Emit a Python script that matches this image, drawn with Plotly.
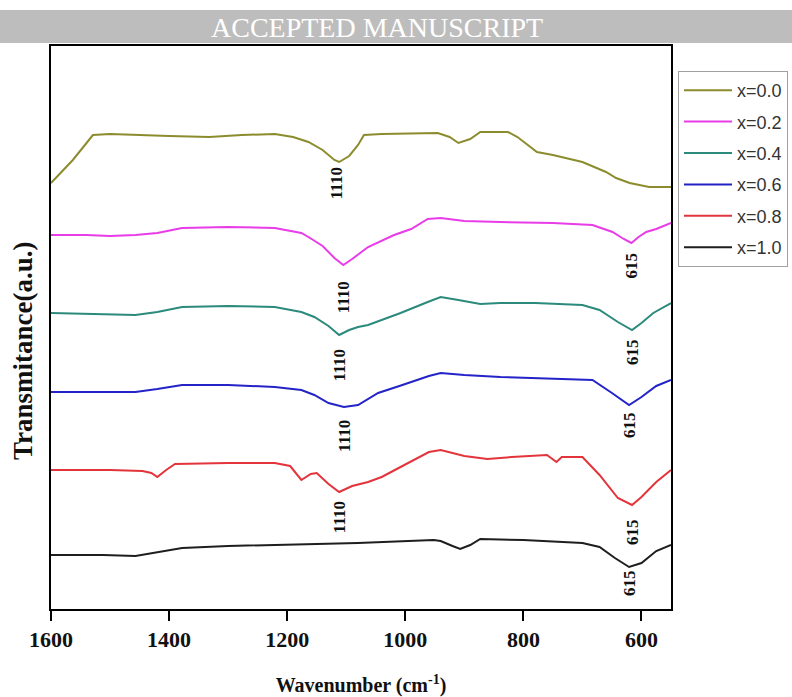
import plotly.graph_objects as go

# ---- data (wavenumber in cm^-1, transmittance in arbitrary offset units) ----
wn_00 = [1600, 1563, 1529, 1500, 1400, 1332, 1277, 1221, 1190, 1164, 1140, 1120, 1112, 1095, 1080, 1070,
         1040, 945, 925, 910, 890, 873, 826, 810, 777, 750, 700, 660, 643, 620, 587, 550]
t_00 = [422, 445, 470, 471, 469, 468, 470, 471, 468, 463, 455, 445, 443, 449, 460, 470,
        471, 472, 468, 462, 466, 473, 473, 468, 453, 450, 443, 433, 427, 422, 418, 418]

wn_02 = [1600, 1540, 1500, 1457, 1420, 1378, 1300, 1221, 1176, 1164, 1140, 1120, 1105, 1090, 1063, 1040,
         1019, 990, 962, 940, 900, 839, 750, 683, 649, 630, 617, 605, 592, 575, 550]
t_02 = [370, 370, 369, 370, 372, 377, 378, 377, 372, 368, 359, 347, 340, 346, 358, 364,
        370, 376, 386, 387, 384, 383, 382, 380, 373, 366, 362, 368, 373, 376, 382]

wn_04 = [1600, 1540, 1457, 1420, 1378, 1300, 1221, 1176, 1154, 1130, 1112, 1095, 1080, 1063, 1040, 1008,
         962, 940, 910, 873, 839, 780, 700, 671, 640, 616, 600, 580, 550]
t_04 = [292, 291, 290, 293, 298, 299, 298, 293, 288, 279, 270, 275, 278, 280, 285, 292,
        303, 308, 305, 301, 302, 302, 300, 295, 283, 275, 282, 292, 302]

wn_06 = [1600, 1500, 1457, 1420, 1378, 1300, 1221, 1176, 1154, 1130, 1104, 1080, 1046, 1010, 960, 940,
         900, 839, 750, 683, 650, 621, 600, 575, 550]
t_06 = [213, 213, 213, 216, 220, 220, 218, 215, 210, 202, 198, 200, 212, 219, 229, 232,
        230, 228, 226, 225, 212, 200, 208, 219, 225]

wn_08 = [1600, 1500, 1445, 1430, 1420, 1405, 1390, 1300, 1221, 1195, 1176, 1160, 1150, 1130, 1112, 1090,
         1063, 1040, 1008, 960, 940, 900, 861, 820, 760, 744, 735, 700, 671, 640, 616, 600, 575, 550]
t_08 = [135, 135, 134, 132, 128, 135, 141, 142, 142, 139, 125, 131, 132, 121, 113, 119,
        123, 128, 138, 153, 155, 149, 146, 148, 150, 143, 148, 148, 130, 107, 100, 108, 123, 135]

wn_10 = [1600, 1512, 1457, 1420, 1378, 1300, 1221, 1080, 952, 940, 920, 907, 890, 873, 800, 700,
         671, 645, 621, 600, 575, 550]
t_10 = [50, 50, 49, 53, 57, 59, 60, 62, 65, 64, 59, 56, 60, 66, 65, 62,
        58, 47, 38, 42, 54, 60]

series_names = ["x=0.0", "x=0.2", "x=0.4", "x=0.6", "x=0.8", "x=1.0"]
series_wn = [wn_00, wn_02, wn_04, wn_06, wn_08, wn_10]
series_t = [t_00, t_02, t_04, t_06, t_08, t_10]
series_colors = ["#8c8c2e", "#e83ce8", "#2b8a7c", "#2323c8", "#e3343c", "#1e1e1e"]

# peak labels: (text, wavenumber, y)
peak_text = ["1110", "1110", "615", "1110", "615", "1110", "615", "1110", "615", "615"]
peak_wn = [1117, 1105, 617, 1112, 616, 1104, 621, 1112, 616, 621]
peak_y = [422, 308, 340, 240, 253, 169, 180, 88, 73, 22]

x_ticks = [1600, 1400, 1200, 1000, 800, 600]

SERIF = "Liberation Serif, Times New Roman, serif"
SANS = "Liberation Sans, Arial, sans-serif"

fig = go.Figure()
for name, xs, ys, col in zip(series_names, series_wn, series_t, series_colors):
    fig.add_trace(go.Scatter(x=xs, y=ys, mode="lines", name=name, legendgroup=name,
                             line=dict(color=col, width=2)))

for txt, xv, yv in zip(peak_text, peak_wn, peak_y):
    fig.add_annotation(x=xv, y=yv, text=txt, showarrow=False, textangle=-90,
                       xanchor="center", yanchor="middle",
                       font=dict(family=SERIF, size=17, color="#111", weight="bold"))

# page geometry (pixels)
W, H = 792, 697
L, R, T, B = 51, 121, 46, 88
pw, ph = W - L - R, H - T - B


def px_x(p):
    return (p - L) / pw


def px_y(p):
    return (H - B - p) / ph


# "ACCEPTED MANUSCRIPT" banner
fig.add_shape(type="rect", xref="paper", yref="paper", x0=px_x(0), x1=px_x(W), y0=px_y(43), y1=px_y(10),
              fillcolor="#bdbdbd", line=dict(width=0), layer="above")
fig.add_annotation(xref="paper", yref="paper", x=px_x(377), y=px_y(27), text="ACCEPTED MANUSCRIPT",
                   showarrow=False, xanchor="center", yanchor="middle",
                   font=dict(family=SERIF, size=28, color="#ffffff"))

# y-axis title placed as in the reference (below plot centre)
fig.add_annotation(xref="paper", yref="paper", x=px_x(23), y=px_y(351), text="<b>Transmitance(a.u.)</b>",
                   showarrow=False, textangle=-90, xanchor="center", yanchor="middle",
                   font=dict(family=SERIF, size=27, color="#111"))

fig.update_layout(
    width=W, height=H,
    margin=dict(l=L, r=R, t=T, b=B, autoexpand=False),
    paper_bgcolor="white", plot_bgcolor="white",
    showlegend=True,
    legend=dict(x=px_x(678), y=px_y(71), xanchor="left", yanchor="top",
                bordercolor="#a0a0a0", borderwidth=1, bgcolor="white",
                font=dict(family=SANS, size=18, color="#333"),
                tracegroupgap=5, itemwidth=48),
    xaxis=dict(range=[1600, 550], tickvals=x_ticks, ticks="outside", ticklen=10, tickwidth=1.8,
               tickcolor="black", showline=True, linecolor="black", linewidth=1.8, mirror=True,
               showgrid=False, zeroline=False, automargin=False,
               tickfont=dict(family=SERIF, size=22, color="#111", weight="bold"),
               title=dict(text="Wavenumber (cm<sup>-1</sup>)", standoff=30,
                          font=dict(family=SERIF, size=20, color="#111", weight="bold"))),
    yaxis=dict(range=[-4, 559], showticklabels=False, ticks="", showline=True, linecolor="black",
               linewidth=1.8, mirror=True, showgrid=False, zeroline=False, automargin=False),
)

fig.write_html("out.html", config={"displayModeBar": False},
               post_script="document.body.style.margin='0';")
